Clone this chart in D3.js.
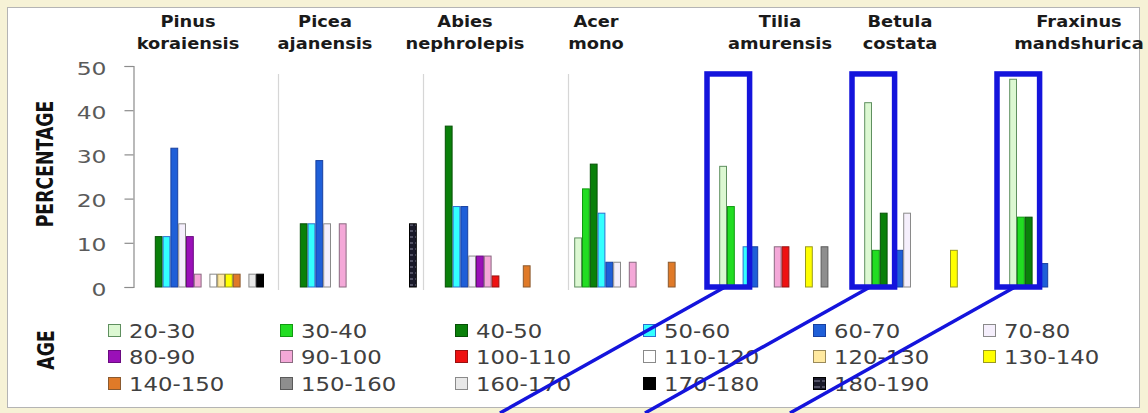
<!DOCTYPE html>
<html>
<head>
<meta charset="utf-8">
<script src="https://cdn.jsdelivr.net/npm/d3@7"></script>
<style>
  html, body { margin: 0; padding: 0; background: #f6f2d6; }
  svg { display: block; }
  text { font-family: "DejaVu Sans", Verdana, sans-serif; }
</style>
</head>
<body>
<svg id="chart" width="1148" height="413"></svg>
<script>
// ---- data -------------------------------------------------------------
const genus   = ["Pinus", "Picea", "Abies", "Acer", "Tilia", "Betula", "Fraxinus"];
const epithet = ["koraiensis", "ajanensis", "nephrolepis", "mono", "amurensis", "costata", "mandshurica"];

const ageClasses = ["20-30", "30-40", "40-50", "50-60", "60-70", "70-80", "80-90", "90-100",
  "100-110", "110-120", "120-130", "130-140", "140-150", "150-160", "160-170", "170-180", "180-190"];

// percentage of stems in each age class, per species (same order as ageClasses)
const pinusKoraiensis   = [0, 0, 11.4, 11.4, 31.4, 14.3, 11.4, 2.9, 0, 2.9, 2.9, 2.9, 2.9, 0, 2.9, 2.9, 0];
const piceaAjanensis    = [0, 0, 14.3, 14.3, 28.6, 14.3, 0, 14.3, 0, 0, 0, 0, 0, 0, 0, 0, 14.3];
const abiesNephrolepis  = [0, 0, 36.4, 18.2, 18.2, 7.0, 7.0, 7.0, 2.5, 0, 0, 0, 4.8, 0, 0, 0, 0];
const acerMono          = [11.1, 22.2, 27.8, 16.7, 5.6, 5.6, 0, 5.6, 0, 0, 0, 0, 5.6, 0, 0, 0, 0];
const tiliaAmurensis    = [27.3, 18.2, 0, 9.1, 9.1, 0, 0, 9.1, 9.1, 0, 0, 9.1, 0, 9.1, 0, 0, 0];
const betulaCostata     = [41.7, 8.3, 16.7, 0, 8.3, 16.7, 0, 0, 0, 0, 0, 8.3, 0, 0, 0, 0, 0];
const fraxinusMandshurica = [47.0, 15.8, 15.8, 0, 5.3, 0, 0, 0, 0, 0, 0, 0, 0, 0, 0, 0, 0];

const yTicks = [0, 10, 20, 30, 40, 50];

// species highlighted with a box around their young age classes
const highlighted = ["Tilia", "Betula", "Fraxinus"];

// ---- styling ----------------------------------------------------------
const fills = ["#dcf8d2", "#22dd22", "#0a800a", "#33ffff", "#1f5fd8", "#f5effc", "#9a10b8", "#f4a8d8",
  "#ee1111", "#ffffff", "#ffe9a0", "#ffff00", "#e07a28", "#8e8e8e", "#e8e8e8", "#000000", "url(#hatch)"];
const strokes = ["#5f8f5f", "#119911", "#065006", "#2a70d0", "#1840a0", "#8a8a8a", "#6a0a80", "#8a6a80",
  "#991111", "#8a8a8a", "#9a8a5a", "#9a9a20", "#8a5a30", "#5a5a5a", "#8a8a8a", "#000000", "#000000"];

const table = genus.map((g, i) => ({
  genus: g, epithet: epithet[i],
  values: [pinusKoraiensis, piceaAjanensis, abiesNephrolepis, acerMono,
           tiliaAmurensis, betulaCostata, fraxinusMandshurica][i]
}));

// ---- layout -----------------------------------------------------------
const W = 1148, H = 413;
const svg = d3.select("#chart");

const defs = svg.append("defs");
const hatch = defs.append("pattern").attr("id", "hatch")
  .attr("patternUnits", "userSpaceOnUse").attr("width", 8).attr("height", 6);
hatch.append("rect").attr("width", 8).attr("height", 6).attr("fill", "#1a1a2a");
hatch.append("line").attr("x1", 1).attr("x2", 7).attr("y1", 3).attr("y2", 3)
  .attr("stroke", "#8a8aa0").attr("stroke-width", 1);

// frame and white panel
svg.append("rect").attr("width", W).attr("height", H).attr("fill", "#f6f2d6");
svg.append("rect").attr("x", 7.5).attr("y", 7.5).attr("width", 1132).attr("height", 400)
  .attr("fill", "#ffffff").attr("stroke", "#b4b4b4");

const x0 = d3.scaleBand().domain(genus).range([133, 1148]).paddingInner(0).paddingOuter(0);
const x1 = d3.scaleBand().domain(ageClasses).range([6.2, x0.bandwidth() - 6.2]);
const y  = d3.scaleLinear().domain([0, 50]).range([287, 66]);

// faint separators between the first species groups
svg.append("g").selectAll("line").data(genus.slice(1, 4)).join("line")
  .attr("x1", d => x0(d) + 0.5).attr("x2", d => x0(d) + 0.5)
  .attr("y1", 74).attr("y2", 290)
  .attr("stroke", "#d6d6d6").attr("stroke-width", 1.2);

// y axis
const yAxis = svg.append("g").attr("transform", "translate(133.5,0)")
  .call(d3.axisLeft(y).tickValues(yTicks).tickSize(9).tickPadding(0));
yAxis.select(".domain").attr("stroke", "#8c8c8c").attr("stroke-width", 1.2);
yAxis.selectAll(".tick line").attr("stroke", "#8c8c8c").attr("stroke-width", 1.2);
yAxis.selectAll(".tick text")
  .attr("x", null).attr("dy", "0.36em")
  .attr("fill", "#5a5a5a").attr("font-size", 17)
  .attr("transform", "translate(-27,2) scale(1.38,1)");

// bars
const groups = svg.append("g").selectAll("g").data(table).join("g")
  .attr("transform", d => `translate(${x0(d.genus)},0)`);
groups.selectAll("rect")
  .data(d => d.values.map((v, k) => ({ age: ageClasses[k], k, v })).filter(e => e.v > 0))
  .join("rect")
  .attr("x", e => x1(e.age) + 0.5)
  .attr("y", e => y(e.v))
  .attr("width", x1.bandwidth() - 1)
  .attr("height", e => y(0) - y(e.v))
  .attr("fill", e => fills[e.k])
  .attr("stroke", e => strokes[e.k])
  .attr("stroke-width", 1);

// species titles
const titleX = [188, 325, 465, 596, 780, 900, 1079];
const titles = svg.append("g").selectAll("g").data(table).join("g");
titles.append("text")
  .attr("transform", (d, i) => `translate(${titleX[i]},27) scale(1.08,1)`)
  .attr("text-anchor", "middle").attr("font-weight", "bold").attr("font-size", 16.5)
  .attr("fill", "#1a1a1a").text(d => d.genus);
titles.append("text")
  .attr("transform", (d, i) => `translate(${titleX[i]},49) scale(1.08,1)`)
  .attr("text-anchor", "middle").attr("font-weight", "bold").attr("font-size", 16.5)
  .attr("fill", "#1a1a1a").text(d => d.epithet);

// axis titles
svg.append("text")
  .attr("transform", "translate(53,164) rotate(-90) scale(1,1.32)")
  .attr("text-anchor", "middle").attr("font-weight", "bold").attr("font-size", 17.3)
  .attr("fill", "#111").text("PERCENTAGE");
svg.append("text")
  .attr("transform", "translate(54,350) rotate(-90) scale(1,1.32)")
  .attr("text-anchor", "middle").attr("font-weight", "bold").attr("font-size", 17.3)
  .attr("fill", "#111").text("AGE");

// legend
const legendColX = [108, 280, 455, 643, 813, 983];
const legendRowY = [331, 357, 384];
const legend = svg.append("g").selectAll("g").data(ageClasses).join("g")
  .attr("transform", (d, i) => `translate(${legendColX[i % 6]},${legendRowY[Math.floor(i / 6)]})`);
legend.append("rect")
  .attr("x", 0.5).attr("y", -6.5).attr("width", 12).attr("height", 12)
  .attr("fill", (d, i) => fills[i]).attr("stroke", (d, i) => strokes[i]);
legend.append("text")
  .attr("transform", "translate(21,7) scale(1.2,1)")
  .attr("font-size", 19).attr("fill", "#404040").text(d => d);

// highlight boxes around the youngest age classes, with leader lines
const boxW = x1("40-50") + x1.bandwidth() + 13;
const hl = svg.append("g").selectAll("g").data(highlighted).join("g");
hl.append("rect")
  .attr("x", d => x0(d) - 6).attr("y", y(48.2))
  .attr("width", boxW).attr("height", y(0) - y(48.2))
  .attr("fill", "none").attr("stroke", "#1414dc").attr("stroke-width", 5.5);
hl.append("line")
  .attr("x1", d => x0(d) + 12).attr("y1", y(0))
  .attr("x2", d => x0(d) - 213).attr("y2", H)
  .attr("stroke", "#1414dc").attr("stroke-width", 3.5);
</script>
</body>
</html>
